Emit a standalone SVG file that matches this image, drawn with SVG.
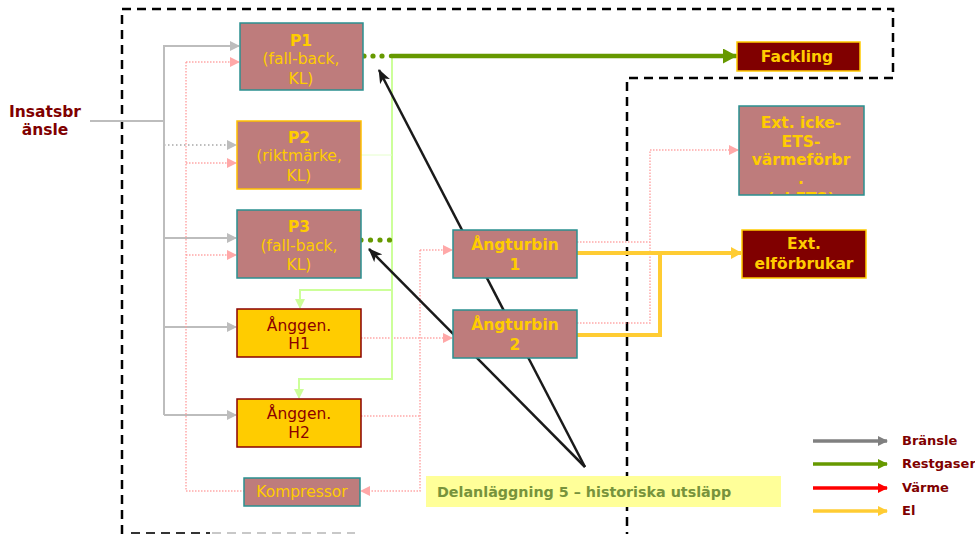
<svg xmlns="http://www.w3.org/2000/svg" width="975" height="534" viewBox="0 0 975 534">
<style>
text{font-family:"DejaVu Sans",Verdana,sans-serif;text-anchor:middle;}
.rb{fill:#BE7C7C;stroke:#2A9090;stroke-width:1.5}
.rby{fill:#BE7C7C;stroke:#FFC000;stroke-width:1.5}
.yb{fill:#FFCC00;stroke:#8B0000;stroke-width:1.5}
.db{fill:#800000;stroke:#FFCC00;stroke-width:1.5}
.ty{fill:#FFCC00;font-size:15.5px}
.tyb{fill:#FFCC00;font-size:15.5px;font-weight:bold}
.tr{fill:#8B0000;font-size:15.5px}
.gray{stroke:#BDBDBD;stroke-width:2;fill:none}
.grayd{stroke:#BDBDBD;stroke-width:2;fill:none;stroke-dasharray:1.5 2.5}
.pink{stroke:#FF9999;stroke-width:1.5;fill:none;stroke-dasharray:1.5 1.5;opacity:0.85}
.lg{stroke:#CCFF99;stroke-width:2;fill:none}
.el{stroke:#FFCC33;stroke-width:4;fill:none}
.blk{stroke:#1A1A1A;stroke-width:2.5;fill:none}
.dash{stroke:#000;stroke-width:2.5;fill:none;stroke-dasharray:9 6}
.leg{font-size:13px;font-weight:bold;fill:#800000;text-anchor:start}
</style>
<defs>
<marker id="ag" markerWidth="10" markerHeight="10" refX="9" refY="5" orient="auto" markerUnits="userSpaceOnUse"><path d="M0,0 L10,5 L0,10 z" fill="#BDBDBD"/></marker>
<marker id="ap" markerWidth="10" markerHeight="10" refX="9" refY="5" orient="auto" markerUnits="userSpaceOnUse"><path d="M0,0 L10,5 L0,10 z" fill="#FF9999"/></marker>
<marker id="alg" markerWidth="10" markerHeight="10" refX="9" refY="5" orient="auto" markerUnits="userSpaceOnUse"><path d="M0,0 L10,5 L0,10 z" fill="#CCFF99"/></marker>
<marker id="agr" markerWidth="14" markerHeight="15" refX="13" refY="7.5" orient="auto" markerUnits="userSpaceOnUse"><path d="M0,0 L14,7.5 L0,15 z" fill="#669900"/></marker>
<marker id="ay" markerWidth="11" markerHeight="12" refX="10" refY="6" orient="auto" markerUnits="userSpaceOnUse"><path d="M0,0 L11,6 L0,12 z" fill="#FFCC33"/></marker>
<marker id="ab" markerWidth="14" markerHeight="12" refX="13" refY="6" orient="auto" markerUnits="userSpaceOnUse"><path d="M0,0.5 L14,6 L0,11.5 L3.5,6 z" fill="#1A1A1A"/></marker>
<marker id="lgray" markerWidth="10" markerHeight="10" refX="9" refY="5" orient="auto" markerUnits="userSpaceOnUse"><path d="M0,0 L10,5 L0,10 z" fill="#808080"/></marker>
<marker id="lgreen" markerWidth="10" markerHeight="10" refX="9" refY="5" orient="auto" markerUnits="userSpaceOnUse"><path d="M0,0 L10,5 L0,10 z" fill="#669900"/></marker>
<marker id="lred" markerWidth="10" markerHeight="10" refX="9" refY="5" orient="auto" markerUnits="userSpaceOnUse"><path d="M0,0 L10,5 L0,10 z" fill="#FF0000"/></marker>
<marker id="lyel" markerWidth="10" markerHeight="10" refX="9" refY="5" orient="auto" markerUnits="userSpaceOnUse"><path d="M0,0 L10,5 L0,10 z" fill="#FFCC33"/></marker>
<clipPath id="cExt"><rect x="740" y="107" width="123" height="87"/></clipPath>
</defs>

<g id="boundary">
<path class="dash" d="M122,534 V9 H893 V78 H627 V534"/>
<path d="M131,533 H210" stroke="#333" stroke-width="2" stroke-dasharray="9 6"/>
<path d="M212,533 H355" stroke="#C8C8C8" stroke-width="2" stroke-dasharray="9 6"/>
</g>

<g id="connectors">
<path class="gray" d="M90,121 H164 V415"/>
<path class="gray" d="M164,121 V46 H239" marker-end="url(#ag)"/>
<path class="grayd" d="M164,145 H236" marker-end="url(#ag)"/>
<path class="gray" d="M164,238 H236" marker-end="url(#ag)"/>
<path class="gray" d="M164,327 H236" marker-end="url(#ag)"/>
<path class="gray" d="M164,415 H236" marker-end="url(#ag)"/>
<path class="pink" d="M186,62 V491 H244"/>
<path class="pink" d="M186,62 H239" marker-end="url(#ap)"/>
<path class="pink" d="M186,163 H236" marker-end="url(#ap)"/>
<path class="pink" d="M186,255 H236" marker-end="url(#ap)"/>
<path class="pink" d="M361,338 H452" marker-end="url(#ap)"/>
<path class="pink" d="M361,416 H420"/>
<path class="pink" d="M420,250 V491 H361" marker-end="url(#ap)"/>
<path class="pink" d="M420,250 H452" marker-end="url(#ap)"/>
<path class="pink" d="M577,242 H650 M577,323 H650 V150"/>
<path class="pink" d="M650,150 H738" marker-end="url(#ap)"/>
<path class="lg" d="M392,56 V379 H299 V398" marker-end="url(#alg)"/>
<path class="lg" d="M392,290 H300 V308" marker-end="url(#alg)"/>
<path d="M361,155 H392" stroke="#E6FFCC" stroke-width="1" fill="none"/>
<g fill="#669900">
<circle cx="364" cy="56" r="2.6"/><circle cx="373" cy="56" r="2.6"/><circle cx="382" cy="56" r="2.6"/>
<circle cx="361" cy="240" r="2.6"/><circle cx="370.5" cy="240" r="2.6"/><circle cx="380" cy="240" r="2.6"/><circle cx="389.5" cy="240" r="2.6"/>
</g>
<path d="M391,56 H736" stroke="#669900" stroke-width="4.5" stroke-linecap="round" fill="none" marker-end="url(#agr)"/>
<path class="el" d="M577,253 H741" marker-end="url(#ay)"/>
<path class="el" d="M577,335 H660 V253"/>
<path class="blk" d="M585,467 L379,70" marker-end="url(#ab)"/>
<path class="blk" d="M585,467 L369,249" marker-end="url(#ab)"/>
</g>

<g id="insats"><text x="45" y="117" style="font-size:15.5px;font-weight:bold;fill:#800000">Insatsbr</text><text x="45" y="135" style="font-size:15.5px;font-weight:bold;fill:#800000">änsle</text></g>

<g id="P1"><rect class="rb" x="240" y="23" width="123" height="67"/><text class="tyb" x="301" y="46">P1</text><text class="ty" x="301" y="64">(fall-back,</text><text class="ty" x="301" y="84">KL)</text></g>
<g id="P2"><rect class="rby" x="237" y="121" width="124" height="68"/><text class="tyb" x="299" y="143">P2</text><text class="ty" x="299" y="161">(riktmärke,</text><text class="ty" x="299" y="181">KL)</text></g>
<g id="P3"><rect class="rb" x="237" y="210" width="124" height="68"/><text class="tyb" x="299" y="232">P3</text><text class="ty" x="299" y="251">(fall-back,</text><text class="ty" x="299" y="270">KL)</text></g>
<g id="H1"><rect class="yb" x="237" y="309" width="124" height="48"/><text class="tr" x="299" y="331">Ånggen.</text><text class="tr" x="299" y="349">H1</text></g>
<g id="H2"><rect class="yb" x="237" y="399" width="124" height="48"/><text class="tr" x="299" y="419">Ånggen.</text><text class="tr" x="299" y="438">H2</text></g>
<g id="Kompressor"><rect class="rb" x="244" y="478" width="116" height="28"/><text class="ty" x="302" y="497">Kompressor</text></g>
<g id="T1"><rect class="rb" x="453" y="230" width="124" height="48"/><text class="tyb" x="515" y="250">Ångturbin</text><text class="tyb" x="515" y="270">1</text></g>
<g id="T2"><rect class="rb" x="453" y="310" width="124" height="48"/><text class="tyb" x="515" y="330">Ångturbin</text><text class="tyb" x="515" y="350">2</text></g>
<g id="Fackling"><rect class="db" x="737" y="42" width="123" height="29"/><text class="tyb" x="797" y="62">Fackling</text></g>
<g id="ExtIcke"><rect class="rb" x="739" y="106" width="125" height="89"/><g clip-path="url(#cExt)"><text class="tyb" x="801" y="128">Ext. icke-</text><text class="tyb" x="801" y="147">ETS-</text><text class="tyb" x="801" y="165">värmeförbr</text><text class="tyb" x="801" y="184">.</text><text class="tyb" x="801" y="204">(ej ETS)</text></g></g>
<g id="ExtEl"><rect class="db" x="742" y="230" width="124" height="48"/><text class="tyb" x="804" y="249">Ext.</text><text class="tyb" x="804" y="269">elförbrukar</text></g>

<g id="note"><rect x="426" y="476" width="355" height="31" fill="#FFFF99"/><text x="437" y="497" style="text-anchor:start;font-size:14.3px;font-weight:bold;fill:#77933C">Delanläggning 5 – historiska utsläpp</text></g>

<g id="legend">
<path d="M813,441 H887" stroke="#808080" stroke-width="3.5" marker-end="url(#lgray)"/>
<path d="M813,464 H887" stroke="#669900" stroke-width="3.5" marker-end="url(#lgreen)"/>
<path d="M813,488 H887" stroke="#FF0000" stroke-width="3.5" marker-end="url(#lred)"/>
<path d="M813,511 H887" stroke="#FFCC33" stroke-width="3.5" marker-end="url(#lyel)"/>
<text class="leg" x="902" y="445">Bränsle</text>
<text class="leg" x="902" y="468">Restgaser</text>
<text class="leg" x="902" y="492">Värme</text>
<text class="leg" x="902" y="515">El</text>
</g>
</svg>
